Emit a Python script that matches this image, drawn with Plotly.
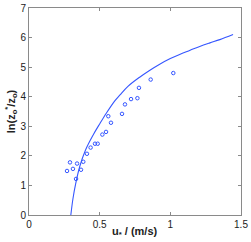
import plotly.graph_objects as go

# measured data points
u_obs = [0.269, 0.290, 0.311, 0.333, 0.340, 0.368, 0.384, 0.410, 0.436, 0.467, 0.486,
         0.519, 0.545, 0.561, 0.580, 0.658, 0.679, 0.722, 0.767, 0.778, 0.861, 1.021]
ln_obs = [1.49, 1.78, 1.56, 1.22, 1.74, 1.53, 1.80, 2.07, 2.28, 2.41, 2.41,
          2.72, 2.81, 3.34, 3.12, 3.42, 3.74, 3.92, 3.95, 4.30, 4.58, 4.80]

# model curve
u_fit = [0.296, 0.311, 0.330, 0.359, 0.400, 0.453, 0.500, 0.548, 0.607, 0.642, 0.700,
         0.783, 0.850, 0.925, 1.000, 1.066, 1.140, 1.208, 1.280, 1.350, 1.444]
ln_fit = [0.0, 0.55, 1.05, 1.64, 2.20, 2.70, 3.08, 3.45, 3.86, 4.05, 4.35,
          4.66, 4.88, 5.10, 5.29, 5.43, 5.57, 5.70, 5.82, 5.93, 6.10]

x_ticks = [0, 0.5, 1, 1.5]
x_tick_text = ["0", "0.5", "1", "1.5"]
y_ticks = [0, 1, 2, 3, 4, 5, 6, 7]

blue = "#3556ff"
font = "Liberation Sans, Arial"

fig = go.Figure()
fig.add_trace(go.Scatter(x=u_obs, y=ln_obs, mode="markers",
                         marker=dict(symbol="circle-open", size=3.5, color=blue,
                                     line=dict(width=1, color=blue)),
                         showlegend=False))
fig.add_trace(go.Scatter(x=u_fit, y=ln_fit, mode="lines",
                         line=dict(color=blue, width=1.1, shape="spline", smoothing=1.0),
                         showlegend=False))

axis_common = dict(showgrid=False, zeroline=False, showline=True, linecolor="#8a8a8a",
                   linewidth=1, mirror="ticks", ticks="inside", ticklen=3, automargin=False,
                   tickcolor="#8a8a8a", tickfont=dict(family=font, size=10, color="#222"))

fig.update_layout(
    width=251, height=242,
    margin=dict(l=29, r=10, t=8, b=27, autoexpand=False),
    paper_bgcolor="white", plot_bgcolor="white",
    xaxis=dict(range=[0, 1.5], tickvals=x_ticks, ticktext=x_tick_text,
               ticklabelstandoff=0, **axis_common),
    yaxis=dict(range=[0, 7], tickvals=y_ticks, ticklabelstandoff=0,
               title=dict(text="<b>ln(z<sub>o</sub><sup>*</sup>/z<sub>o</sub>)</b>", standoff=2,
                          font=dict(family=font, size=11, color="#222")),
               **axis_common),
    annotations=[dict(text="<b>u<sub>*</sub> / (m/s)</b>", xref="paper", yref="paper",
                      x=0.5, y=-0.08, xanchor="center", yanchor="middle", showarrow=False,
                      font=dict(family=font, size=11, color="#222"))],
)

fig.write_html("out.html", config={"displayModeBar": False},
               post_script="document.body.style.margin='0';document.body.style.overflow='hidden';")
